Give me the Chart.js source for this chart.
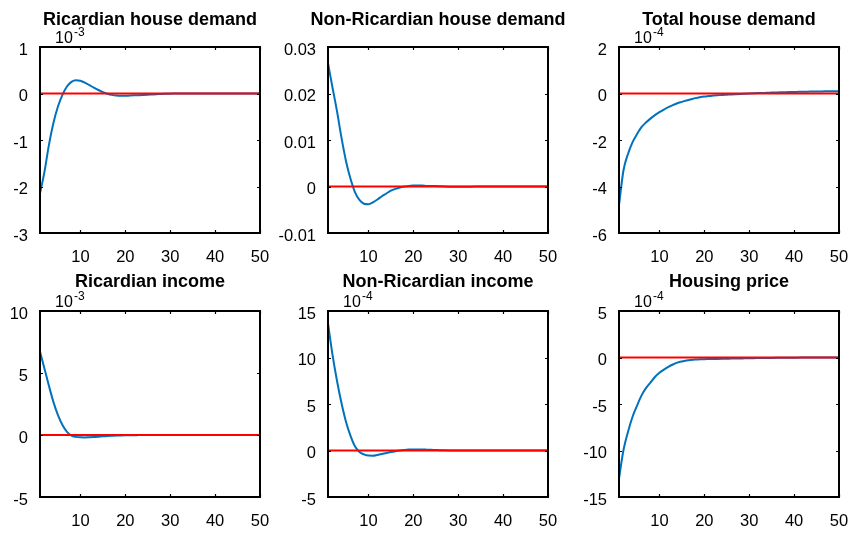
<!DOCTYPE html>
<html>
<head>
<meta charset="utf-8">
<script src="https://cdn.jsdelivr.net/npm/chart.js@4"></script>
<style>
  html, body { margin: 0; padding: 0; background: #fff; }
  body { width: 853px; height: 534px; position: relative; overflow: hidden; }
  canvas { position: absolute; }
</style>
</head>
<body>
<script>
// ---------- DATA ----------
const periods = [1,2,3,4,5,6,7,8,9,10,11,12,13,14,15,16,17,18,19,20,21,22,23,24,25,
                 26,27,28,29,30,31,32,33,34,35,36,37,38,39,40,41,42,43,44,45,46,47,48,49,50];
const zeroLinePeriods = [1, 50];
const zeroLine = [0, 0];

const titles = ["Ricardian house demand", "Non-Ricardian house demand", "Total house demand",
                "Ricardian income", "Non-Ricardian income", "Housing price"];
const exponents = ["-3", "", "-4", "-3", "-4", "-4"];

// values in displayed units (x 10^exponent)
const ricardianHouseDemand = [-2.15,-1.68,-1.10,-0.63,-0.28,-0.03,0.15,0.25,0.285,0.275,
  0.235,0.18,0.125,0.075,0.03,-0.005,-0.03,-0.045,-0.05,-0.05,
  -0.045,-0.04,-0.035,-0.03,-0.025,-0.02,-0.015,-0.01,-0.007,-0.004,
  -0.002,0,0.001,0.002,0.002,0.002,0.002,0.002,0.002,0.002,
  0.002,0.002,0.002,0.002,0.002,0.002,0.002,0.002,0.002,0.002];
const nonRicardianHouseDemand = [0.0265,0.0213,0.0162,0.0105,0.0055,0.0017,-0.0012,-0.0029,-0.0037,-0.0038,
  -0.0034,-0.0028,-0.0021,-0.0015,-0.0009,-0.0005,-0.0002,0.0000,0.0001,0.0002,
  0.0002,0.0002,0.0001,0.0001,0.0001,0.00005,0,-0.00003,-0.00004,-0.00004,
  -0.00004,-0.00003,-0.00003,-0.00002,-0.00002,-0.00001,-0.00001,0,0,0,
  0,0,0,0,0,0,0,0,0,0];
const totalHouseDemand = [-4.8,-3.3,-2.6,-2.1,-1.75,-1.45,-1.25,-1.08,-0.93,-0.80,
  -0.69,-0.59,-0.50,-0.42,-0.36,-0.30,-0.25,-0.20,-0.16,-0.13,
  -0.11,-0.09,-0.075,-0.06,-0.05,-0.04,-0.03,-0.02,-0.01,0,
  0.01,0.02,0.025,0.03,0.04,0.045,0.05,0.055,0.06,0.065,
  0.07,0.075,0.08,0.083,0.086,0.089,0.092,0.095,0.098,0.1];
const ricardianIncome = [6.72,5.35,3.95,2.65,1.6,0.8,0.25,-0.05,-0.15,-0.19,
  -0.2,-0.18,-0.16,-0.14,-0.11,-0.09,-0.07,-0.05,-0.04,-0.03,
  -0.02,-0.015,-0.01,-0.005,0,0,0,0,0,0,
  0,0,0,0,0,0,0,0,0,0,
  0,0,0,0,0,0,0,0,0,0];
const nonRicardianIncome = [13.7,10.3,7.5,5.1,3.1,1.6,0.45,-0.15,-0.42,-0.55,
  -0.56,-0.48,-0.38,-0.27,-0.17,-0.08,0,0.06,0.1,0.12,
  0.12,0.11,0.09,0.07,0.05,0.03,0.02,0.01,0,-0.005,
  -0.01,-0.01,-0.01,-0.01,-0.008,-0.006,-0.005,-0.004,-0.003,-0.002,
  -0.001,0,0,0,0,0,0,0,0,0];
const housingPrice = [-13.0,-9.95,-8.0,-6.4,-5.2,-4.1,-3.3,-2.7,-2.1,-1.65,
  -1.3,-1.0,-0.75,-0.55,-0.42,-0.32,-0.26,-0.22,-0.2,-0.18,
  -0.17,-0.16,-0.15,-0.14,-0.13,-0.12,-0.11,-0.1,-0.09,-0.08,
  -0.07,-0.065,-0.06,-0.05,-0.045,-0.04,-0.035,-0.03,-0.025,-0.02,
  -0.015,-0.01,-0.008,-0.005,-0.003,0,0.002,0.003,0.004,0.005];
const series = [ricardianHouseDemand, nonRicardianHouseDemand, totalHouseDemand,
                ricardianIncome, nonRicardianIncome, housingPrice];

const xTicks = [10, 20, 30, 40, 50];
const xTickLabels = ["10", "20", "30", "40", "50"];
const yTicks = [
  [-3, -2, -1, 0, 1],
  [-0.01, 0, 0.01, 0.02, 0.03],
  [-6, -4, -2, 0, 2],
  [-5, 0, 5, 10],
  [-5, 0, 5, 10, 15],
  [-15, -10, -5, 0, 5]
];
const yTickLabels = [
  ["-3", "-2", "-1", "0", "1"],
  ["-0.01", "0", "0.01", "0.02", "0.03"],
  ["-6", "-4", "-2", "0", "2"],
  ["-5", "0", "5", "10"],
  ["-5", "0", "5", "10", "15"],
  ["-15", "-10", "-5", "0", "5"]
];

// ---------- LAYOUT ----------
const plotLeft = [40, 328, 619];
const plotTop = [47, 311];
const plotW = 220, plotH = 186;
const padL = 60, padT = 47, padR = 30, padB = 40;
const titleGap = [22, 24];
const FONT = '"Liberation Sans", Arial, Helvetica, sans-serif';

function noPad(s) { s.paddingLeft = 0; s.paddingRight = 0; s.paddingTop = 0; s.paddingBottom = 0; }

const boxPlugin = {
  id: 'box',
  afterDraw(chart, args, opts) {
    const { ctx, chartArea: a } = chart;
    const xs = chart.scales.x, ys = chart.scales.y;
    ctx.save();
    ctx.strokeStyle = '#000';
    ctx.lineWidth = 1.2;
    ctx.beginPath();
    xTicks.forEach(v => {
      const px = Math.round(xs.getPixelForValue(v)) + 0.5;
      ctx.moveTo(px, a.bottom); ctx.lineTo(px, a.bottom - 3);
      ctx.moveTo(px, a.top); ctx.lineTo(px, a.top + 3);
    });
    opts.yt.forEach(v => {
      const py = Math.round(ys.getPixelForValue(v)) + 0.5;
      ctx.moveTo(a.left, py); ctx.lineTo(a.left + 3, py);
      ctx.moveTo(a.right, py); ctx.lineTo(a.right - 3, py);
    });
    ctx.stroke();
    ctx.lineWidth = 2;
    ctx.strokeRect(a.left, a.top, a.right - a.left, a.bottom - a.top);
    ctx.fillStyle = '#000';
    ctx.textBaseline = 'alphabetic';
    ctx.textAlign = 'center';
    ctx.font = 'bold 18px ' + FONT;
    ctx.fillText(opts.title, (a.left + a.right) / 2, a.top - opts.gap);
    if (opts.exp) {
      ctx.textAlign = 'left';
      ctx.font = '16px ' + FONT;
      ctx.fillText('10', a.left + 15, a.top - 4);
      ctx.font = '12px ' + FONT;
      ctx.fillText(opts.exp, a.left + 34, a.top - 11);
    }
    ctx.restore();
  }
};

for (let i = 0; i < 6; i++) {
  const row = Math.floor(i / 3), col = i % 3;
  const cv = document.createElement('canvas');
  const W = padL + plotW + padR, H = padT + plotH + padB;
  cv.width = W; cv.height = H;
  cv.style.width = W + 'px'; cv.style.height = H + 'px';
  cv.style.left = (plotLeft[col] - padL) + 'px';
  cv.style.top = (plotTop[row] - padT) + 'px';
  document.body.appendChild(cv);

  const yt = yTicks[i], ytl = yTickLabels[i];
  new Chart(cv, {
    type: 'line',
    data: {
      datasets: [
        {
          data: zeroLinePeriods.map((p, k) => ({ x: p, y: zeroLine[k] })),
          borderColor: '#ff0000', borderWidth: 2, pointRadius: 0, tension: 0
        },
        {
          data: periods.map((p, k) => ({ x: p, y: series[i][k] })),
          borderColor: '#0072bd', borderWidth: 2, pointRadius: 0,
          cubicInterpolationMode: 'monotone'
        }
      ]
    },
    options: {
      responsive: false,
      animation: false,
      devicePixelRatio: 1,
      layout: { padding: { top: padT, right: padR, left: 0, bottom: 0 } },
      plugins: {
        legend: { display: false },
        tooltip: { enabled: false },
        title: { display: false },
        box: { yt: yt, title: titles[i], exp: exponents[i], gap: titleGap[row] }
      },
      scales: {
        x: {
          type: 'linear', min: 1, max: 50,
          grid: { display: false, drawTicks: false },
          border: { display: false },
          afterFit: s => { s.height = padB; noPad(s); },
          afterBuildTicks: s => { s.ticks = xTicks.map(v => ({ value: v })); },
          ticks: {
            autoSkip: false, maxRotation: 0, padding: 15, color: '#000',
            font: { family: FONT, size: 16.5 },
            callback: (v) => xTickLabels[xTicks.indexOf(v)]
          }
        },
        y: {
          type: 'linear', min: yt[0], max: yt[yt.length - 1],
          grid: { display: false, drawTicks: false },
          border: { display: false },
          afterFit: s => { s.width = padL; noPad(s); },
          afterBuildTicks: s => { s.ticks = yt.map(v => ({ value: v })); },
          ticks: {
            autoSkip: false, padding: 12, labelOffset: 3, color: '#000',
            font: { family: FONT, size: 16.5 },
            callback: (v) => ytl[yt.indexOf(v)]
          }
        }
      }
    },
    plugins: [boxPlugin]
  });
}
</script>
</body>
</html>
